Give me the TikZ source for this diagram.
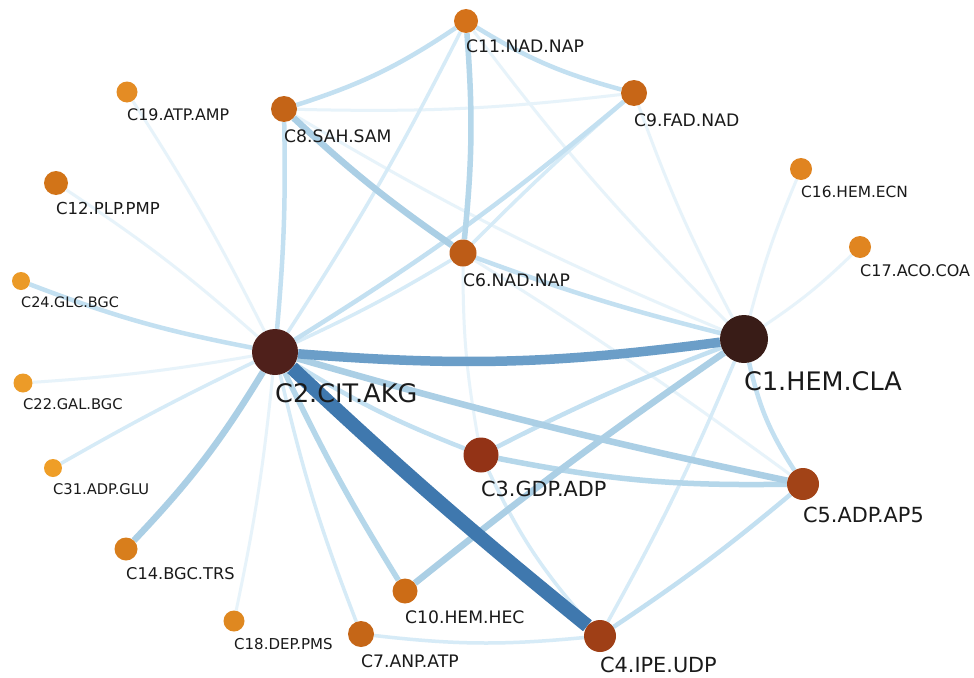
\documentclass[tikz,border=0pt]{standalone}
\usepackage{fontspec}
\setmainfont{DejaVu Sans}
\usetikzlibrary{backgrounds}
\definecolor{labcol}{HTML}{1A1A1A}
\definecolor{ethk}{HTML}{3F78AE}
\definecolor{ebg}{HTML}{6B9EC8}
\definecolor{emd}{HTML}{ABCFE5}
\definecolor{emi}{HTML}{B5D7EA}
\definecolor{elt}{HTML}{C3E0F1}
\definecolor{esf}{HTML}{D6EBF7}
\definecolor{efn}{HTML}{E7F3FA}
\definecolor{k1}{HTML}{391C17}
\definecolor{k2}{HTML}{4F201B}
\definecolor{k3}{HTML}{933316}
\definecolor{k4}{HTML}{9F3F16}
\definecolor{k5}{HTML}{A24317}
\definecolor{k6}{HTML}{BD5C17}
\definecolor{k7}{HTML}{C56617}
\definecolor{k8}{HTML}{C46417}
\definecolor{k9}{HTML}{C76617}
\definecolor{k10}{HTML}{CC6C16}
\definecolor{k11}{HTML}{D4721A}
\definecolor{k12}{HTML}{D27418}
\definecolor{k14}{HTML}{D87E1C}
\definecolor{k16}{HTML}{E08420}
\definecolor{k17}{HTML}{E08520}
\definecolor{k18}{HTML}{DF8820}
\definecolor{k19}{HTML}{E48C24}
\definecolor{k22}{HTML}{EC9B28}
\definecolor{k24}{HTML}{EB9A27}
\definecolor{k31}{HTML}{EF9E27}
\begin{document}
\begin{tikzpicture}[x=1pt,y=1pt,
  nd/.style={circle,inner sep=0pt,draw=none,minimum size=#1},
  lab/.style={anchor=north west,inner sep=0pt,text=labcol},
  fs/.style={font=\fontsize{15}{18}\selectfont},
  fm/.style={font=\fontsize{17.2}{20}\selectfont},
  fl/.style={font=\fontsize{20.8}{24}\selectfont},
  fx/.style={font=\fontsize{25.5}{30}\selectfont},
  ethick/.style={line width=14pt,draw=ethk},
  ebig/.style={line width=9.5pt,draw=ebg},
  emed/.style={line width=6.5pt,draw=emd},
  emid/.style={line width=5.5pt,draw=emi},
  elight/.style={line width=4.5pt,draw=elt},
  esoft/.style={line width=3.5pt,draw=esf},
  efaint/.style={line width=3pt,draw=efn}]
\useasboundingbox (0,0) rectangle (974,-677);
% nodes
\node[nd=48pt,fill=k1] (c1) at (744,-339) {};
\node[nd=46pt,fill=k2] (c2) at (275,-352) {};
\node[nd=35pt,fill=k3] (c3) at (481,-455) {};
\node[nd=32pt,fill=k4] (c4) at (600,-636) {};
\node[nd=32pt,fill=k5] (c5) at (803,-484) {};
\node[nd=27pt,fill=k6] (c6) at (463,-253) {};
\node[nd=26pt,fill=k7] (c7) at (361,-634) {};
\node[nd=26pt,fill=k8] (c8) at (284,-109) {};
\node[nd=26pt,fill=k9] (c9) at (634,-93) {};
\node[nd=25pt,fill=k10] (c10) at (405,-591) {};
\node[nd=24pt,fill=k11] (c11) at (466,-21) {};
\node[nd=24pt,fill=k12] (c12) at (56,-183) {};
\node[nd=23pt,fill=k14] (c14) at (126,-549) {};
\node[nd=22pt,fill=k16] (c16) at (801,-169) {};
\node[nd=22pt,fill=k17] (c17) at (860,-247) {};
\node[nd=21pt,fill=k18] (c18) at (234,-621) {};
\node[nd=21pt,fill=k19] (c19) at (127,-92) {};
\node[nd=19pt,fill=k22] (c22) at (23,-383) {};
\node[nd=18pt,fill=k24] (c24) at (21,-281) {};
\node[nd=18pt,fill=k31] (c31) at (53,-468) {};
% edges
\begin{pgfonlayer}{background}
\fill[white] (0,0) rectangle (974,-677);
\path
  (c8) edge[efaint,bend right=4] (c9)
  (c8) edge[efaint,bend right=4] (c1)
  (c11) edge[efaint,bend right=4] (c1)
  (c9) edge[efaint,bend right=4] (c1)
  (c6) edge[efaint,bend right=5] (c3)
  (c6) edge[efaint,bend left=2] (c5)
  (c1) edge[efaint,bend left=4] (c16)
  (c1) edge[efaint,bend right=5] (c17)
  (c2) edge[efaint,bend right=3] (c19)
  (c2) edge[efaint,bend right=4] (c12)
  (c2) edge[efaint,bend left=3] (c22)
  (c2) edge[efaint,bend left=3] (c18)
  (c9) edge[esoft,bend right=2] (c6)
  (c2) edge[esoft,bend right=3] (c11)
  (c2) edge[esoft,bend right=3] (c6)
  (c3) edge[esoft,bend right=8] (c4)
  (c1) edge[esoft,bend left=3] (c4)
  (c2) edge[esoft,bend right=4] (c7)
  (c7) edge[esoft,bend right=6] (c4)
  (c2) edge[esoft,bend right=2] (c31)
  (c8) edge[elight,bend right=8] (c11)
  (c11) edge[elight,bend right=8] (c9)
  (c1) edge[elight,bend right=3] (c3)
  (c2) edge[elight,bend right=5] (c3)
  (c4) edge[elight,bend right=3] (c5)
  (c2) edge[elight,bend right=3] (c8)
  (c2) edge[elight,bend left=5] (c24)
  (c1) edge[elight,bend right=10] (c5)
  (c6) edge[elight,bend right=3] (c1)
  (c2) edge[elight,bend right=4] (c9)
  (c11) edge[emid,bend left=5] (c6)
  (c2) edge[emid,bend right=3] (c10)
  (c3) edge[emid,bend right=6] (c5)
  (c8) edge[emed,bend right=4] (c6)
  (c2) edge[emed,bend right=2] (c5)
  (c1) edge[emed,bend right=2] (c10)
  (c2) edge[emed,bend left=6] (c14)
  (c2) edge[ebig,bend right=6] (c1)
  (c2) edge[ethick,bend right=2] (c4);
\end{pgfonlayer}
% labels
\node[lab,fx] (t1) at ([yshift=-8pt]c1.south) {C1.HEM.CLA};
\node[lab,fx] (t2) at ([yshift=-8pt]c2.south) {C2.CIT.AKG};
\node[lab,fl] (t3) at ([yshift=-8pt]c3.south) {C3.GDP.ADP};
\node[lab,fl] (t4) at ([yshift=-5pt]c4.south) {C4.IPE.UDP};
\node[lab,fl] (t5) at ([yshift=-7pt]c5.south) {C5.ADP.AP5};
\node[lab,fm] (t6) at ([yshift=-7pt]c6.south) {C6.NAD.NAP};
\node[lab,fm] (t7) at ([yshift=-7pt]c7.south) {C7.ANP.ATP};
\node[lab,fm] (t8) at ([yshift=-7pt]c8.south) {C8.SAH.SAM};
\node[lab,fm] (t9) at ([yshift=-7pt]c9.south) {C9.FAD.NAD};
\node[lab,fm] (t10) at ([yshift=-7pt]c10.south) {C10.HEM.HEC};
\node[lab,fm] (t11) at ([yshift=-6pt]c11.south) {C11.NAD.NAP};
\node[lab,font=\fontsize{16.5}{20}\selectfont] (t12) at ([yshift=-7pt]c12.south) {C12.PLP.PMP};
\node[lab,font=\fontsize{16.2}{20}\selectfont] (t14) at ([yshift=-7pt]c14.south) {C14.BGC.TRS};
\node[lab,font=\fontsize{15.4}{18}\selectfont] (t16) at ([yshift=-6pt]c16.south) {C16.HEM.ECN};
\node[lab,font=\fontsize{16}{18}\selectfont] (t17) at ([yshift=-6pt]c17.south) {C17.ACO.COA};
\node[lab,fs] (t18) at ([yshift=-6pt]c18.south) {C18.DEP.PMS};
\node[lab,font=\fontsize{15.9}{18}\selectfont] (t19) at ([yshift=-6pt]c19.south) {C19.ATP.AMP};
\node[lab,font=\fontsize{14.7}{18}\selectfont] (t22) at ([yshift=-6pt]c22.south) {C22.GAL.BGC};
\node[lab,font=\fontsize{14.4}{18}\selectfont] (t24) at ([yshift=-6pt]c24.south) {C24.GLC.BGC};
\node[lab,font=\fontsize{14.7}{18}\selectfont] (t31) at ([yshift=-6pt]c31.south) {C31.ADP.GLU};
\end{tikzpicture}
\end{document}
